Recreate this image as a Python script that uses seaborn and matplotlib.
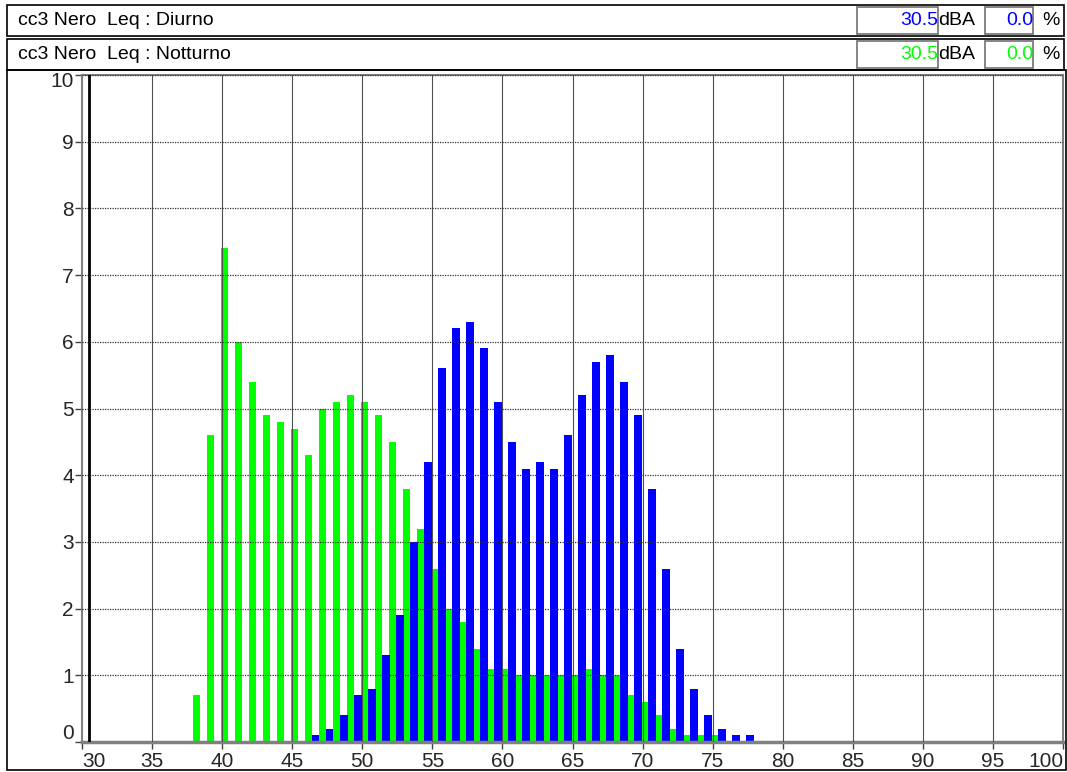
import matplotlib
matplotlib.use('Agg')
import matplotlib.pyplot as plt
from matplotlib.patches import Rectangle
import numpy as np
import seaborn as sns

# classi di livello (1 dB) e percentuali di tempo
livelli_diurno = list(range(46, 78))
perc_diurno = [0.1, 0.2, 0.4, 0.7, 0.8, 1.3, 1.9, 3.0, 4.2, 5.6,
               6.2, 6.3, 5.9, 5.1, 4.5, 4.1, 4.2, 4.1, 4.6, 5.2,
               5.7, 5.8, 5.4, 4.9, 3.8, 2.6, 1.4, 0.8, 0.4, 0.2,
               0.1, 0.1]
livelli_notturno = list(range(38, 76))
perc_notturno = [0.7, 4.6, 7.4, 6.0, 5.4, 4.9, 4.8, 4.7, 4.3, 5.0,
                 5.1, 5.2, 5.1, 4.9, 4.5, 3.8, 3.2, 2.6, 2.0, 1.8,
                 1.4, 1.1, 1.1, 1.0, 1.0, 1.0, 1.0, 1.0, 1.1, 1.0,
                 1.0, 0.7, 0.6, 0.4, 0.2, 0.1, 0.1, 0.1]

titoli = ['cc3 Nero  Leq : Diurno', 'cc3 Nero  Leq : Notturno']
leq = ['30.5', '30.5']
perc = ['0.0', '0.0']
colori = ['#0000ff', '#00ff00']
cursore = 30.5
x_ticks = list(range(30, 101, 5))
y_ticks = list(range(0, 11))

W, H = 1067, 772

sns.set_theme(style="white")
plt.rcParams['font.family'] = ['Liberation Sans Narrow', 'Liberation Sans', 'DejaVu Sans']


def fx(x):
    return x / W


def fy(y):
    return 1 - y / H


fig = plt.figure(figsize=(W / 100, H / 100), dpi=100)
fig.patch.set_facecolor('white')

# --- intestazione ---
for i, (y0, y1) in enumerate([(5, 36), (39, 70)]):
    fig.add_artist(Rectangle((fx(7), fy(y1)), fx(1064 - 7), (y1 - y0) / H,
                             transform=fig.transFigure, fill=False,
                             edgecolor='black', lw=1.2))
    yc = fy((y0 + y1) / 2)
    fig.text(fx(18), yc, titoli[i], fontsize=14, va='center', ha='left', color='black')
    fig.add_artist(Rectangle((fx(857), fy(y1 - 2)), fx(938 - 857), (y1 - y0 - 4) / H,
                             transform=fig.transFigure, fill=False,
                             edgecolor='#707070', lw=1.2))
    fig.add_artist(Rectangle((fx(985), fy(y1 - 2)), fx(1033 - 985), (y1 - y0 - 4) / H,
                             transform=fig.transFigure, fill=False,
                             edgecolor='#707070', lw=1.2))
    fig.text(fx(938), yc, leq[i], fontsize=14, va='center', ha='right', color=colori[i])
    fig.text(fx(938), yc, 'dBA', fontsize=14, va='center', ha='left', color='black')
    fig.text(fx(1033), yc, perc[i], fontsize=14, va='center', ha='right', color=colori[i])
    fig.text(fx(1042), yc, '%', fontsize=14, va='center', ha='left', color='black')

# cornice del grafico
fig.add_artist(Rectangle((fx(7), fy(770)), fx(1066 - 7), (770 - 70) / H,
                         transform=fig.transFigure, fill=False,
                         edgecolor='black', lw=1.2))

# --- istogramma ---
ax = fig.add_axes([fx(82), fy(742), fx(1063 - 82), (742 - 75) / H])
sns.barplot(x=np.array(livelli_notturno) + 0.16, y=perc_notturno, native_scale=True,
            width=0.55, color=colori[1], saturation=1, linewidth=0, ax=ax)
sns.barplot(x=np.array(livelli_diurno) + 0.67, y=perc_diurno, native_scale=True,
            width=0.55, color=colori[0], saturation=1, linewidth=0, ax=ax)

ax.axvline(cursore, color='black', lw=2, zorder=5)

ax.set_xlim(30, 100)
ax.set_ylim(0, 10)
ax.set_xticks(x_ticks)
ax.set_yticks(y_ticks)
ax.set_xticklabels([str(t) for t in x_ticks], fontsize=15)
# le etichette estreme (0 e 10) sono spostate dentro il riquadro
ax.set_yticklabels([''] + [str(t) for t in y_ticks[1:-1]] + [''], fontsize=15)
ax.annotate(str(y_ticks[0]), (0, y_ticks[0]), xycoords=('axes fraction', 'data'),
            xytext=(-6, 6), textcoords='offset points', ha='right', va='center', fontsize=15)
ax.annotate(str(y_ticks[-1]), (0, y_ticks[-1]), xycoords=('axes fraction', 'data'),
            xytext=(-6, -5), textcoords='offset points', ha='right', va='center', fontsize=15)
xl = ax.get_xticklabels()
xl[0].set_ha('left')
xl[-1].set_ha('right')
ax.set_xlabel('')
ax.set_ylabel('')

ax.tick_params(axis='x', bottom=True, length=5, width=1, color='#404040', pad=2)
ax.tick_params(axis='y', left=True, length=5, width=1, color='#404040', pad=1)

for x in x_ticks[1:-1]:
    ax.axvline(x, color='#505050', lw=0.8, zorder=3)
for y in y_ticks[1:]:
    ax.axhline(y, color='#303030', lw=0.9, ls=(0, (1, 1)), zorder=3)

for s in ax.spines.values():
    s.set_color('#808080')
    s.set_linewidth(1.5)
ax.spines['bottom'].set_linewidth(2.5)

fig.savefig('out.png', dpi=100)
